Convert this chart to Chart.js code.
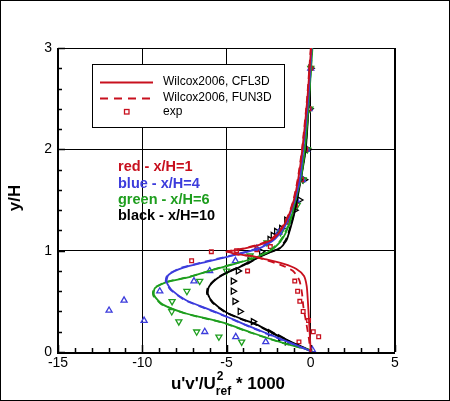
<!DOCTYPE html>
<html>
<head>
<meta charset="utf-8">
<script src="https://cdn.jsdelivr.net/npm/chart.js@4.4.1/dist/chart.umd.min.js"></script>
<style>
  body { margin: 0; background: #fff; }
  #wrap { width: 450px; height: 401px; }
</style>
</head>
<body>
<div id="wrap"><canvas id="profile" width="450" height="401"></canvas></div>
<script>
// axis ticks
const xTicks = [-15, -10, -5, 0, 5];
const yTicks = [0, 1, 2, 3];

// Wilcox2006 computations, [x, y] along each profile
const redCFL3D = [[0.02,3.0],[-0.2,2.5],[-0.5,2.0],[-0.75,1.7],[-1.0,1.5],[-1.3,1.35],[-1.7,1.22],[-2.2,1.12],[-3.0,1.06],[-4.1,1.015],[-4.9,0.99],[-4.4,0.965],[-3.6,0.95],[-2.8,0.92],[-1.6,0.87],[-0.85,0.82],[-0.4,0.75],[-0.24,0.65],[-0.17,0.5],[-0.11,0.33],[-0.05,0.15],[0.0,0]];
const redFUN3D = [[0.0,3.0],[-0.22,2.5],[-0.52,2.0],[-0.78,1.7],[-1.03,1.5],[-1.33,1.35],[-1.75,1.22],[-2.3,1.12],[-3.1,1.06],[-4.2,1.015],[-5.0,0.99],[-4.5,0.965],[-3.7,0.95],[-2.9,0.92],[-1.8,0.86],[-1.05,0.8],[-0.68,0.71],[-0.52,0.58],[-0.44,0.45],[-0.28,0.3],[-0.1,0.12],[-0.02,0]];
const blueCFL3D = [[0.05,3.0],[-0.15,2.5],[-0.45,2.0],[-0.65,1.7],[-0.95,1.5],[-1.25,1.35],[-1.6,1.22],[-2.1,1.12],[-2.6,1.06],[-3.1,1.02],[-4.2,0.97],[-6.2,0.89],[-7.6,0.83],[-8.45,0.76],[-8.55,0.69],[-8.25,0.61],[-7.4,0.51],[-6.2,0.43],[-5.0,0.35],[-3.6,0.25],[-1.65,0.12],[-0.3,0.03],[0.1,0]];
const blueFUN3D = [[0.03,3.0],[-0.17,2.5],[-0.47,2.0],[-0.68,1.7],[-0.98,1.5],[-1.28,1.35],[-1.65,1.22],[-2.15,1.12],[-2.7,1.06],[-3.2,1.02],[-4.3,0.97],[-6.3,0.89],[-7.7,0.83],[-8.5,0.76],[-8.6,0.69],[-8.3,0.61],[-7.45,0.51],[-6.25,0.43],[-5.05,0.35],[-3.65,0.25],[-1.7,0.12],[-0.32,0.03],[0.08,0]];
const greenCFL3D = [[0.1,3.0],[-0.1,2.5],[-0.35,2.0],[-0.6,1.7],[-0.9,1.5],[-1.2,1.3],[-1.5,1.17],[-1.8,1.09],[-2.4,1.0],[-3.4,0.925],[-4.4,0.875],[-5.6,0.82],[-7.2,0.74],[-8.55,0.69],[-9.25,0.63],[-9.3,0.56],[-8.8,0.47],[-7.4,0.38],[-5.2,0.29],[-3.5,0.19],[-1.65,0.09],[-0.1,0.02],[0.1,0]];
const greenFUN3D = [[0.08,3.0],[-0.12,2.5],[-0.37,2.0],[-0.63,1.7],[-0.93,1.5],[-1.23,1.3],[-1.55,1.17],[-1.85,1.09],[-2.45,1.0],[-3.45,0.925],[-4.45,0.875],[-5.65,0.82],[-7.25,0.74],[-8.6,0.69],[-9.3,0.63],[-9.35,0.56],[-8.85,0.47],[-7.45,0.38],[-5.25,0.29],[-3.55,0.19],[-1.7,0.09],[-0.12,0.02],[0.08,0]];
const blackCFL3D = [[0.05,3.0],[-0.1,2.5],[-0.3,2.0],[-0.7,1.6],[-1.0,1.35],[-1.3,1.17],[-1.45,1.1],[-1.85,1.02],[-2.4,0.985],[-3.0,0.94],[-4.2,0.84],[-5.0,0.78],[-5.6,0.72],[-6.05,0.64],[-6.1,0.57],[-5.8,0.49],[-5.0,0.39],[-4.0,0.32],[-3.2,0.27],[-2.05,0.17],[-1.05,0.09],[-0.1,0.02],[0.1,0]];
const blackFUN3D = [[0.03,3.0],[-0.12,2.5],[-0.32,2.0],[-0.72,1.6],[-1.03,1.35],[-1.33,1.17],[-1.5,1.1],[-1.9,1.02],[-2.45,0.985],[-3.05,0.94],[-4.25,0.84],[-5.05,0.78],[-5.65,0.72],[-6.1,0.64],[-6.15,0.57],[-5.85,0.49],[-5.05,0.39],[-4.05,0.32],[-3.25,0.27],[-2.1,0.17],[-1.1,0.09],[-0.12,0.02],[0.08,0]];

// experiment
const redExp = [[0,2.8],[-0.1,2.4],[-0.3,2.0],[-0.55,1.7],[-0.9,1.45],[-1.4,1.28],[-2.4,1.04],[-3.2,1.01],[-4.4,1.0],[-5.9,0.99],[-7.07,0.9],[-3.75,0.8],[-0.95,0.7],[-0.78,0.6],[-0.65,0.5],[-0.45,0.4],[-0.13,0.31],[0.15,0.2],[0.47,0.15],[-0.7,0.1]];
const blueExp = [[0,2.8],[-0.1,2.4],[-0.25,2.0],[-0.5,1.7],[-0.85,1.5],[-1.3,1.3],[-1.9,1.18],[-3.2,1.02],[-4.47,0.9],[-6.0,0.8],[-6.93,0.7],[-8.96,0.6],[-11.08,0.51],[-11.97,0.41],[-9.89,0.31],[-6.29,0.2],[-4.45,0.15],[-2.67,0.1],[0.1,0.02]];
const greenExp = [[0,2.8],[-0.05,2.4],[-0.2,2.0],[-0.45,1.7],[-0.8,1.45],[-1.3,1.28],[-1.8,1.18],[-2.6,1.08],[-3.6,0.95],[-5.0,0.8],[-6.59,0.7],[-7.35,0.6],[-8.23,0.5],[-8.25,0.4],[-7.83,0.3],[-6.77,0.2],[-5.45,0.15],[-4.1,0.1]];
const blackExp = [[0,2.8],[-0.06,2.4],[-0.16,2.0],[-0.38,1.7],[-0.67,1.5],[-0.95,1.4],[-1.44,1.3],[-1.74,1.22],[-2.04,1.19],[-2.24,1.15],[-2.43,1.11],[-2.93,0.99],[-3.62,0.9],[-4.31,0.8],[-4.61,0.7],[-4.61,0.6],[-4.51,0.5],[-4.2,0.4],[-3.42,0.3],[-2.4,0.19],[-1.8,0.14],[-1.4,0.1]];

const RED = '#c8101e', BLUE = '#3c3cdc', GREEN = '#1e9e1e', BLACK = '#000000';
const FONT = '"Liberation Sans", Arial, sans-serif';

const pts = arr => arr.map(p => ({ x: p[0], y: p[1] }));

function curve(arr, color, dashed) {
  return {
    data: pts(arr), showLine: true, borderColor: color, borderWidth: 1.8,
    borderDash: dashed ? [7, 5] : [], pointRadius: 0, tension: 0.22, fill: false
  };
}
function marks(arr, color, style, rot, r) {
  return {
    data: pts(arr), showLine: false, pointStyle: style, rotation: rot,
    pointRadius: r, borderColor: color, borderWidth: 1.3, backgroundColor: 'rgba(0,0,0,0)'
  };
}

// inward ticks, frame, legend box and annotations
const decor = {
  id: 'decor',
  beforeDatasetsDraw(chart) {
    const c = chart.ctx, xs = chart.scales.x, ys = chart.scales.y;
    const a = chart.chartArea;
    c.save();
    c.strokeStyle = '#000';
    c.lineWidth = 1;
    c.strokeRect(a.left + 0.5, a.top + 0.5, a.right - a.left - 1, a.bottom - a.top);
    c.lineWidth = 2;
    c.beginPath();
    c.moveTo(a.left, a.top); c.lineTo(a.left, a.bottom + 1); c.lineTo(a.right, a.bottom + 1);
    c.stroke();
    c.lineWidth = 1.5;
    c.beginPath();
    for (let v = -15; v <= 5; v++) {
      const px = Math.round(xs.getPixelForValue(v)) + 0.5;
      const len = v % 5 === 0 ? 7 : 4;
      c.moveTo(px, a.bottom); c.lineTo(px, a.bottom - len);
    }
    for (let i = 0; i <= 15; i++) {
      const v = i / 5;
      const py = Math.round(ys.getPixelForValue(v)) + 0.5;
      const len = i % 5 === 0 ? 7 : 4;
      c.moveTo(a.left, py); c.lineTo(a.left + len, py);
    }
    c.stroke();

    // station labels
    c.font = 'bold 14.5px ' + FONT;
    c.textBaseline = 'middle';
    c.textAlign = 'left';
    const notes = [['red - x/H=1', RED, 167], ['blue - x/H=4', BLUE, 184], ['green - x/H=6', GREEN, 200], ['black - x/H=10', BLACK, 216]];
    notes.forEach(n => { c.fillStyle = n[1]; c.fillText(n[0], 118, n[2]); });

    // legend box
    c.fillStyle = '#fff';
    c.fillRect(92, 64, 192, 63);
    c.lineWidth = 1;
    c.strokeRect(92.5, 64.5, 192, 63);
    c.strokeStyle = RED;
    c.lineWidth = 2;
    c.beginPath(); c.moveTo(100, 82.5); c.lineTo(153, 82.5); c.stroke();
    c.setLineDash([8, 6]);
    c.beginPath(); c.moveTo(100, 98.5); c.lineTo(153, 98.5); c.stroke();
    c.setLineDash([]);
    c.lineWidth = 1.3;
    c.strokeRect(124.5, 109.5, 4.5, 4.5);
    c.fillStyle = '#000';
    c.font = '12px ' + FONT;
    c.fillText('Wilcox2006, CFL3D', 163, 82);
    c.fillText('Wilcox2006, FUN3D', 163, 98);
    c.fillText('exp', 163, 112);

    // x axis title with sub/superscript
    c.textBaseline = 'alphabetic';
    const big = 'bold 17px ' + FONT, small = 'bold 12px ' + FONT;
    c.font = big; const w1 = c.measureText("u'v'/U").width, w3 = c.measureText(' * 1000').width;
    c.font = small; const w2 = c.measureText('ref').width;
    let x0 = 228 - (w1 + w2 + w3) / 2;
    c.font = big; c.fillText("u'v'/U", x0, 389); x0 += w1;
    c.font = small; c.fillText('ref', x0, 395); c.fillText('2', x0 + 1, 380); x0 += w2;
    c.font = big; c.fillText(' * 1000', x0, 389);

    // y axis title
    c.font = 'bold 17px ' + FONT;
    c.translate(20, 198);
    c.rotate(-Math.PI / 2);
    c.textAlign = 'center';
    c.fillText('y/H', 0, 0);
    c.restore();
  },
  afterDraw(chart) {
    const c = chart.ctx;
    c.save();
    c.strokeStyle = '#000';
    c.lineWidth = 1;
    c.strokeRect(0.5, 0.5, 449, 400);
    c.restore();
  }
};

new Chart(document.getElementById('profile'), {
  type: 'scatter',
  data: {
    datasets: [
      curve(redCFL3D, RED, false), curve(redFUN3D, RED, true),
      curve(blueCFL3D, BLUE, false), curve(blueFUN3D, BLUE, true),
      curve(greenCFL3D, GREEN, false), curve(greenFUN3D, GREEN, true),
      curve(blackCFL3D, BLACK, false), curve(blackFUN3D, BLACK, true),
      marks(redExp, RED, 'rect', 0, 2.6),
      marks(blueExp, BLUE, 'triangle', 0, 3.5),
      marks(greenExp, GREEN, 'triangle', 180, 3.5),
      marks(blackExp, BLACK, 'triangle', 90, 3.5)
    ]
  },
  options: {
    responsive: false,
    animation: false,
    layout: { padding: { left: 0, top: 48, right: 55, bottom: 0 } },
    plugins: { legend: { display: false }, tooltip: { enabled: false } },
    scales: {
      x: {
        type: 'linear', min: -15, max: 5,
        afterFit: s => { s.height = 49; },
        afterBuildTicks: s => { s.ticks = xTicks.map(v => ({ value: v })); },
        ticks: { color: '#000', padding: 3, font: { size: 14, family: FONT } },
        grid: { color: '#000', lineWidth: 1, drawTicks: false },
        border: { display: false }
      },
      y: {
        type: 'linear', min: 0, max: 3,
        afterFit: s => { s.width = 58; },
        afterBuildTicks: s => { s.ticks = yTicks.map(v => ({ value: v })); },
        ticks: { color: '#000', padding: 6, font: { size: 14, family: FONT } },
        grid: { color: '#000', lineWidth: 1, drawTicks: false },
        border: { display: false }
      }
    }
  },
  plugins: [decor]
});
</script>
</body>
</html>
